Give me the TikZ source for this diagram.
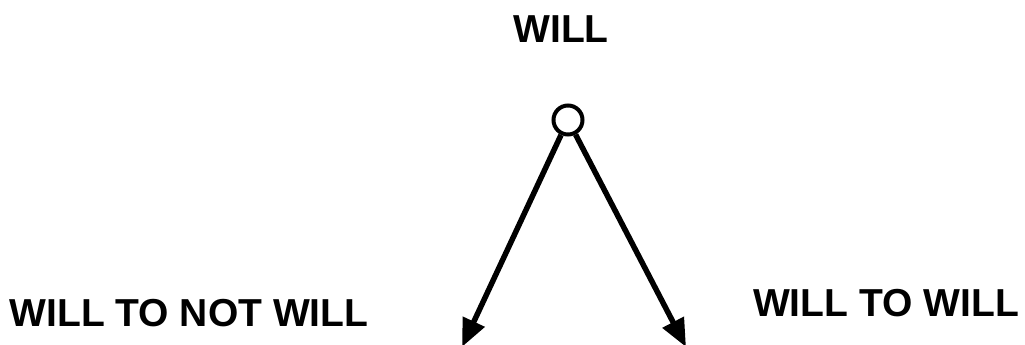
\documentclass[tikz,border=0pt]{standalone}
\usepackage{fontspec}
\setmainfont{Liberation Sans}
\usetikzlibrary{arrows.meta, positioning}
\tikzset{
    % Labels and the branching point
    label/.style = {font=\bfseries\fontsize{39}{41}\selectfont, inner sep=0pt, anchor=center},
    hub/.style   = {draw=black, line width=4pt, circle, minimum size=29pt, inner sep=0pt, fill=white},
    % Branches
    arrow/.style = {line width=5.5pt, -{Triangle[length=28pt, width=23pt]}}
}
\begin{document}
\begin{tikzpicture}[x=1pt, y=-1pt]
    \useasboundingbox (0,0) rectangle (1025,345);

    \node (will) [label] at (561,29) {WILL};
    \node (hub) [hub] at (568,120) {};

    \node (notwill) [label] at (189,313) {WILL TO NOT WILL};
    \node (willwill) [label] at (886,303) {WILL TO WILL};

    \coordinate (lefttip) at (462,347);
    \coordinate (righttip) at (686,347);

    \draw [arrow] (hub) -- (lefttip);
    \draw [arrow] (hub) -- (righttip);
\end{tikzpicture}
\end{document}
